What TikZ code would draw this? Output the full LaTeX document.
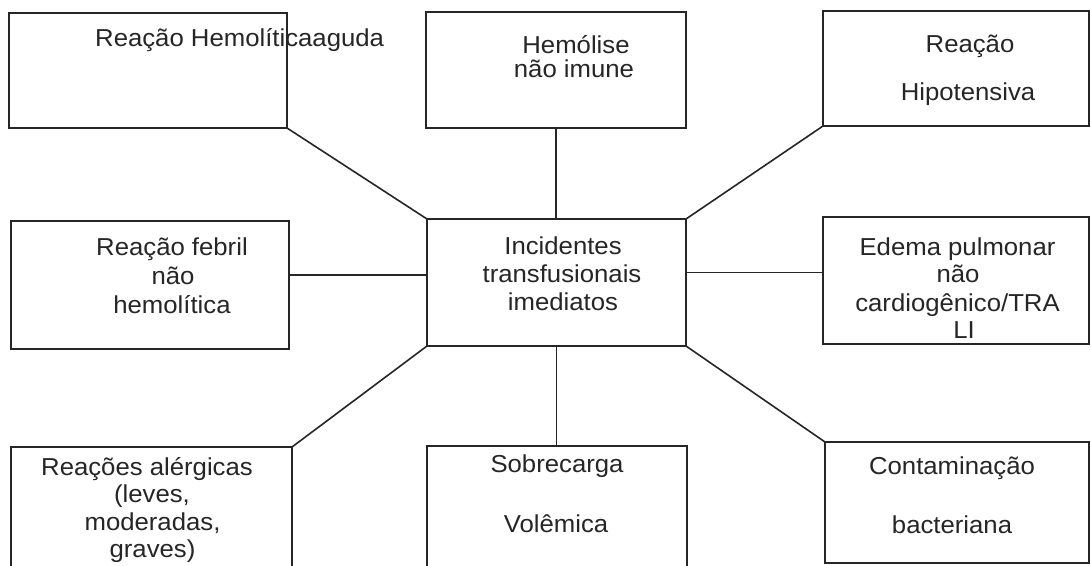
\documentclass[tikz,border=0pt]{standalone}
\usepackage{fontspec}
\newfontfamily\boxfont[FakeStretch=1.05]{Liberation Sans}
\usetikzlibrary{calc}
\definecolor{ink}{HTML}{262626}
\begin{document}
\begin{tikzpicture}[x=1pt,y=-1pt,
  box/.style={draw=ink, line width=1.6pt, rectangle, inner sep=0pt, outer sep=0pt},
  link/.style={draw=ink, line width=1.6pt},
  txt/.style={font={\boxfont\fontsize{24.5}{29}\selectfont}, text=ink, inner sep=0pt, anchor=base}]
\clip (0,0) rectangle (1091,565);
\fill[white] (0,0) rectangle (1091,565);

% boxes
\node[box, minimum width=278pt, minimum height=115pt] (tl) at (148,70.5) {};
\node[box, minimum width=260pt, minimum height=116pt] (tc) at (556,70) {};
\node[box, minimum width=266pt, minimum height=115pt] (tr) at (956,68.5) {};
\node[box, minimum width=278pt, minimum height=128pt] (ml) at (150,285) {};
\node[box, minimum width=259pt, minimum height=127pt] (c)  at (556.5,282.5) {};
\node[box, minimum width=266pt, minimum height=127pt] (mr) at (956,280.5) {};
\node[box, minimum width=281pt, minimum height=130pt] (bl) at (151.5,512) {};
\node[box, minimum width=260pt, minimum height=130pt] (bc) at (557,511) {};
\node[box, minimum width=264pt, minimum height=121pt] (br) at (957,502.5) {};

% connectors
\draw[link] (tl.south east) -- (c.north west);
\draw[link] (tc.south) -- (tc.south |- c.north);
\draw[link] (tr.south west) -- (c.north east);
\draw[link] ([yshift=10pt]ml.east) -- ([yshift=10pt]ml.east -| c.west);
\draw[link] ([yshift=10pt]c.east) -- ([yshift=10pt]c.east -| mr.west);
\draw[link] (c.south west) -- (bl.north east);
\draw[link] (c.south) -- (c.south |- bc.north);
\draw[link] (c.south east) -- (br.north west);

% labels
\node[txt, anchor=base west] (tl1) at (95,46) {Reação Hemolíticaaguda};

\node[txt] (tc1) at (576,53) {Hemólise};
\node[txt] (tc2) at (574,77) {não imune};

\node[txt] (tr1) at (970,52) {Reação};
\node[txt] (tr2) at (968,100) {Hipotensiva};

\node[txt] (ml1) at (172,255) {Reação febril};
\node[txt] (ml2) at (173,284) {não};
\node[txt] (ml3) at (172,313) {hemolítica};

\node[txt] (c1) at (563,254) {Incidentes};
\node[txt] (c2) at (562,282) {transfusionais};
\node[txt] (c3) at (563,310) {imediatos};

\node[txt] (mr1) at (957.5,255) {Edema pulmonar};
\node[txt] (mr2) at (958,282) {não};
\node[txt] (mr3) at (957.5,311) {cardiogênico/TRA};
\node[txt] (mr4) at (964,338) {LI};

\node[txt] (bl1) at (147,475) {Reações alérgicas};
\node[txt] (bl2) at (152,502) {(leves,};
\node[txt] (bl3) at (152.5,530) {moderadas,};
\node[txt] (bl4) at (152.5,557) {graves)};

\node[txt] (bc1) at (557,472) {Sobrecarga};
\node[txt] (bc2) at (556,532) {Volêmica};

\node[txt] (br1) at (952,474) {Contaminação};
\node[txt] (br2) at (952,533) {bacteriana};
\end{tikzpicture}
\end{document}
